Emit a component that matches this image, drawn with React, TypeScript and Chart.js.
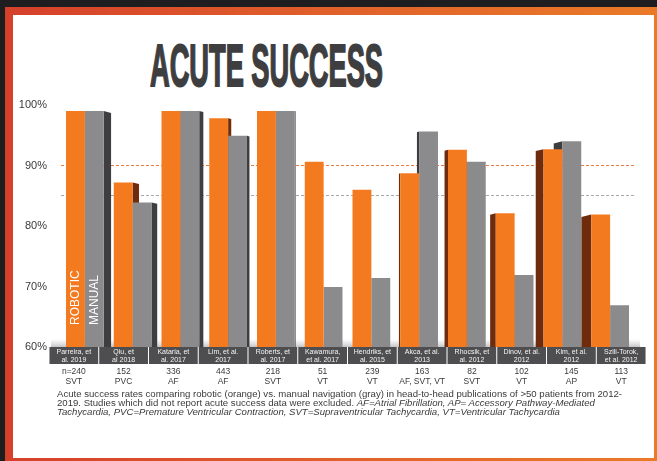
import React, { useEffect, useLayoutEffect, useRef } from 'react';
import { Chart, registerables } from 'chart.js';

Chart.register(...registerables);

// ---------- data ----------
const studies: string[][] = [
  ['Parreira, et', 'al. 2019'],
  ['Qiu, et', 'al 2018'],
  ['Kataria, et', 'al. 2017'],
  ['Lim, et al.', '2017'],
  ['Roberts, et', 'al. 2017'],
  ['Kawamura,', 'et al. 2017'],
  ['Hendriks, et', 'al. 2015'],
  ['Akca, et al.', '2013'],
  ['Rhocsik, et', 'al. 2012'],
  ['Dinov, et al.', '2012'],
  ['Kim, et al.', '2012'],
  ['Szili-Torok,', 'et al. 2012'],
];
const sampleSizes = ['n=240', '152', '336', '443', '218', '51', '239', '163', '82', '102', '145', '113'];
const arrhythmias = ['SVT', 'PVC', 'AF', 'AF', 'SVT', 'VT', 'VT', 'AF, SVT, VT', 'SVT', 'VT', 'AP', 'VT'];
const robotic = [99, 87.2, 99, 97.8, 99, 90.6, 86, 88.7, 92.6, 82.1, 92.7, 81.9];
const manual = [99, 83.9, 99, 94.9, 99, 69.9, 71.4, 95.6, 90.6, 71.9, 94, 66.9];
const seriesNames = ['Robotic', 'Manual'];
const yMin = 60;
const yMax = 100;
const yStep = 5;
const titleText = 'ACUTE SUCCESS';
const captionLine1 =
  'Acute success rates comparing robotic (orange) vs. manual navigation (gray) in head-to-head publications of >50 patients from 2012-';
const captionLine2a = '2019. Studies which did not report acute success data were excluded. ';
const captionLine2b = 'AF=Atrial Fibrillation, AP= Accessory Pathway-Mediated';
const captionLine3 =
  'Tachycardia, PVC=Premature Ventricular Contraction, SVT=Supraventricular Tachycardia, VT=Ventricular Tachycardia';

// ---------- styles ----------
const ORANGE = '#f47a20';
const GRAY = '#8b8b8d';
const ORANGE_SIDE = '#6e2c0c';
const GRAY_SIDE = '#3e3e40';
const FONT = '"Liberation Sans", Arial, sans-serif';
const TABLE_SPREAD = 1.042;

const sideFaces = {
  id: 'sideFaces',
  beforeDatasetsDraw(chart: any) {
    const { ctx, chartArea } = chart;
    const w = chartArea.right - chartArea.left;
    const bottom = chartArea.bottom;
    const leftVp = chartArea.left + w * 0.435;
    const rightVp = chartArea.left + w * 0.557;
    ctx.save();
    // floor
    const g = ctx.createLinearGradient(0, bottom - 8, 0, bottom);
    g.addColorStop(0, 'rgba(210,210,210,0)');
    g.addColorStop(1, 'rgba(190,190,190,0.9)');
    ctx.fillStyle = g;
    ctx.fillRect(chartArea.left - 10, bottom - 8, w + 16, 8);
    chart.data.datasets.forEach((_: any, di: number) => {
      const meta = chart.getDatasetMeta(di);
      ctx.fillStyle = di === 0 ? ORANGE_SIDE : GRAY_SIDE;
      meta.data.forEach((el: any) => {
        const { x, y, width } = el.getProps(['x', 'y', 'width'], true);
        const l = x - width / 2;
        const r = x + width / 2;
        ctx.beginPath();
        if (x < leftVp) {
          const d = (leftVp - x) * 0.034;
          ctx.moveTo(r, y);
          ctx.lineTo(r + d, y + d * 0.25);
          ctx.lineTo(r + d, bottom);
          ctx.lineTo(r, bottom);
        } else if (x > rightVp) {
          const d = (x - rightVp) * 0.045;
          ctx.moveTo(l, y);
          ctx.lineTo(l - d, y + d * 0.25);
          ctx.lineTo(l - d, bottom);
          ctx.lineTo(l, bottom);
        }
        ctx.closePath();
        ctx.fill();
      });
    });
    ctx.restore();
  },
  afterDatasetsDraw(chart: any) {
    const { ctx, chartArea } = chart;
    ctx.save();
    ctx.fillStyle = '#ffffff';
    ctx.font = `12px ${FONT}`;
    ctx.textAlign = 'left';
    ctx.textBaseline = 'middle';
    chart.data.datasets.forEach((ds: any, di: number) => {
      const el = chart.getDatasetMeta(di).data[0];
      ctx.save();
      ctx.translate(el.x, chartArea.bottom - 22);
      ctx.rotate(-Math.PI / 2);
      ctx.fillText(String(ds.label).toUpperCase(), 0, 0);
      ctx.restore();
    });
    ctx.restore();
  },
};

const studyTable = {
  id: 'studyTable',
  afterDraw(chart: any) {
    const { ctx, chartArea } = chart;
    const x = chart.scales.x;
    const mid = (chartArea.left + chartArea.right) / 2;
    const step = (x.getPixelForValue(1) - x.getPixelForValue(0)) * TABLE_SPREAD;
    const top = chartArea.bottom;
    ctx.save();
    ctx.textAlign = 'center';
    ctx.textBaseline = 'middle';
    studies.forEach((lines, i) => {
      const cx = mid + (x.getPixelForValue(i) - mid) * TABLE_SPREAD;
      ctx.fillStyle = '#4e4e50';
      ctx.fillRect(cx - step / 2 + 0.5, top, step - 1, 17);
      ctx.fillStyle = '#f4f4f4';
      ctx.font = `7px ${FONT}`;
      ctx.fillText(lines[0], cx, top + 5);
      ctx.fillText(lines[1], cx, top + 13);
      ctx.fillStyle = '#3a3a3a';
      ctx.font = `8.5px ${FONT}`;
      ctx.fillText(sampleSizes[i], cx, top + 25);
      ctx.fillText(arrhythmias[i], cx, top + 35);
    });
    ctx.restore();
  },
};

function ChartCanvas() {
  const ref = useRef<HTMLCanvasElement>(null);
  useEffect(() => {
    if (!ref.current) return;
    const chart = new Chart(ref.current, {
      type: 'bar',
      data: {
        labels: studies.map((s) => s.join(' ')),
        datasets: [
          {
            label: seriesNames[0],
            data: robotic,
            backgroundColor: ORANGE,
            borderWidth: 0,
            categoryPercentage: 0.79,
            barPercentage: 1,
          },
          {
            label: seriesNames[1],
            data: manual,
            backgroundColor: GRAY,
            borderWidth: 0,
            categoryPercentage: 0.79,
            barPercentage: 1,
          },
        ],
      },
      options: {
        animation: false,
        responsive: false,
        layout: { padding: { top: 10, right: 20, bottom: 48, left: 0 } },
        plugins: {
          legend: { display: false },
          tooltip: { enabled: false },
          title: { display: false },
        },
        scales: {
          x: { display: false },
          y: {
            min: yMin,
            max: yMax,
            beginAtZero: false,
            afterFit: (s: any) => {
              s.width = 48;
              s.paddingTop = 0;
              s.paddingBottom = 0;
            },
            ticks: {
              stepSize: yStep,
              padding: 14,
              color: '#3a3a3a',
              font: { family: FONT, size: 11 },
              callback: (v: any) => (Number(v) % 10 === 0 ? `${v}%` : ''),
            },
            grid: {
              drawTicks: false,
              lineWidth: 1,
              color: (c: any) => {
                const v = c.tick && c.tick.value;
                if (v === 90) return '#ec7a3c';
                if (v === 85) return '#a8a8a8';
                return 'rgba(0,0,0,0)';
              },
            },
            border: { display: false, dash: [3, 2] },
          },
        },
      },
      plugins: [sideFaces, studyTable],
    } as any);
    return () => chart.destroy();
  }, []);
  return <canvas ref={ref} width={641} height={300} style={{ width: 641, height: 300, display: 'block' }} />;
}

function Title() {
  const ref = useRef<HTMLSpanElement>(null);
  useLayoutEffect(() => {
    const el = ref.current;
    if (!el) return;
    el.style.transform = 'none';
    const w = el.getBoundingClientRect().width;
    el.style.transform = `scaleX(${233 / w})`;
  }, []);
  return (
    <span
      ref={ref}
      style={{
        position: 'absolute',
        left: 150,
        top: 36,
        fontFamily: '"Liberation Sans Narrow", "Liberation Sans", Arial, sans-serif',
        fontWeight: 700,
        fontSize: 60,
        lineHeight: 1,
        whiteSpace: 'nowrap',
        color: '#3e3e40',
        WebkitTextStroke: '2px #3e3e40',
        transformOrigin: '0 0',
      }}
    >
      {titleText}
    </span>
  );
}

export default function App() {
  const captionStyle: React.CSSProperties = {
    fontFamily: FONT,
    fontSize: 9.6,
    lineHeight: '9px',
    color: '#3a3a3a',
    whiteSpace: 'nowrap',
  };
  return (
    <div
      style={{
        position: 'absolute',
        left: 0,
        top: 0,
        width: 657,
        height: 461,
        overflow: 'hidden',
        background: '#1e1e20',
      }}
    >
      <div
        style={{
          position: 'absolute',
          left: 5,
          top: 7,
          width: 652,
          height: 454,
          background: 'linear-gradient(90deg, #d5402b 0%, #e0602a 50%, #ea7a28 100%)',
        }}
      />
      <div
        style={{
          position: 'absolute',
          left: 13,
          top: 15,
          width: 641,
          height: 443,
          background: '#ffffff',
        }}
      />
      <Title />
      <div style={{ position: 'absolute', left: 13, top: 95 }}>
        <ChartCanvas />
      </div>
      <div style={{ position: 'absolute', left: 57, top: 388.5, ...captionStyle }}>
        <div>{captionLine1}</div>
        <div>
          {captionLine2a}
          <i>{captionLine2b}</i>
        </div>
        <div>
          <i>{captionLine3}</i>
        </div>
      </div>
    </div>
  );
}
